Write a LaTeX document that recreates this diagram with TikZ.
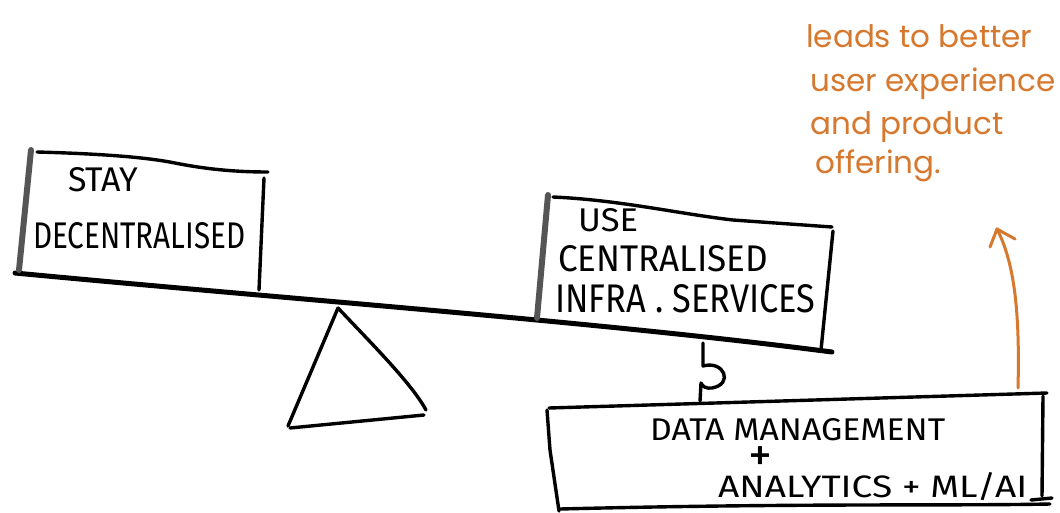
\documentclass[tikz,border=0pt]{standalone}
\usepackage{fontspec}
\usepackage{graphicx}
\setmainfont{Fira Sans}
\newfontfamily\notefont{Poppins}
\definecolor{orangeink}{RGB}{214,120,46}
\definecolor{edgegray}{RGB}{85,85,85}
% a line of capitals stretched to a given width and cap height
\newcommand\fitline[3][23pt]{\resizebox{#2}{#1}{#3}}
\begin{document}
\begin{tikzpicture}[x=1pt,y=-1pt,line cap=round,line join=round,
  ink/.style={line width=3.4pt,black},
  beam/.style={line width=5pt,black},
  sideedge/.style={line width=6pt,edgegray},
  caps/.style={font=\fontsize{30}{34}\selectfont,anchor=base west,inner sep=0pt},
  note/.style={font=\notefont\fontsize{31}{34}\selectfont,text=orangeink,anchor=base west,inner sep=0pt},
  orangestroke/.style={line width=3pt,orangeink}]
\useasboundingbox[fill=white] (0,0) rectangle (1060,512);

% lever beam
\coordinate (beamL) at (15,273);
\coordinate (beamR) at (832,352);
\draw[beam] (beamL) .. controls (300,300) and (600,322) .. (beamR);

% fulcrum
\coordinate (apex) at (338,308);
\coordinate (footL) at (288,426);
\coordinate (footR) at (426,410);
\draw[ink] (apex) -- (footL);
\draw[ink] (apex) .. controls (372,344) and (412,384) .. (footR);
\draw[ink] (290,428) -- (424,415);

% left box: stay decentralised
\draw[sideedge] (31,150) -- (19,270);
\draw[ink] (37,152) .. controls (110,154) and (150,158) .. (175,163)
  .. controls (210,170) and (240,172) .. (268,172);
\draw[ink] (264,178) -- (259,290);
\node[caps] (stay) at (68,191) {\fitline[24pt]{70pt}{STAY}};
\node[caps] (decentral) at (33,248) {\fitline[26pt]{212pt}{DECENTRALISED}};

% right box: centralised services
\draw[sideedge] (548,195) -- (537,318);
\draw[ink] (553,197) .. controls (620,200) and (680,214) .. (733,220) -- (832,227);
\draw[ink] (833,231) -- (821,350);
\node[caps] (use) at (578,231) {\fitline{60pt}{USE}};
\node[caps] (central) at (558,271) {\fitline[26pt]{210pt}{CENTRALISED}};
\node[caps] (infra) at (555,312) {\fitline[28pt]{260pt}{INFRA . SERVICES}};

% data box
\draw[ink] (547,410) -- (550,450) -- (559,511);
\draw[ink] (549,408) -- (1047,393);
\draw[ink] (1043,396) -- (1042,496);
\draw[ink] (1031,500) -- (1052,498);
\draw[ink] (560,509) .. controls (800,503) and (950,506) .. (1050,504);
\node[caps] (data) at (650,440) {\fitline[22pt]{295pt}{DATA MANAGEMENT}};
\node[caps] (plus) at (748,471) {\scalebox{1.6}{+}};
\node[caps] (analytics) at (718,497) {\fitline[25pt]{309pt}{ANALYTICS + ML/AI}};

% link between the beam and the data box
\coordinate (linkTop) at (703,343);
\coordinate (linkBot) at (700,401);
\draw[ink] (linkTop) -- (703,366)
  .. controls (724,360) and (734,384) .. (712,388)
  .. controls (706,389) and (702,386) .. (701,383) -- (linkBot);

% orange note and arrow
\coordinate (arrowBase) at (1018,388);
\coordinate (arrowTip) at (997,229);
\draw[orangestroke] (arrowBase) .. controls (1020,310) and (1014,262) .. (arrowTip);
\draw[orangestroke] (990,247) -- (arrowTip) -- (1015,239);
\node[note] (l1) at (806,47) {leads to better};
\node[note] (l2) at (810,91) {user experience};
\node[note] (l3) at (810,134) {and product};
\node[note] (l4) at (815,173) {offering.};
\end{tikzpicture}
\end{document}
